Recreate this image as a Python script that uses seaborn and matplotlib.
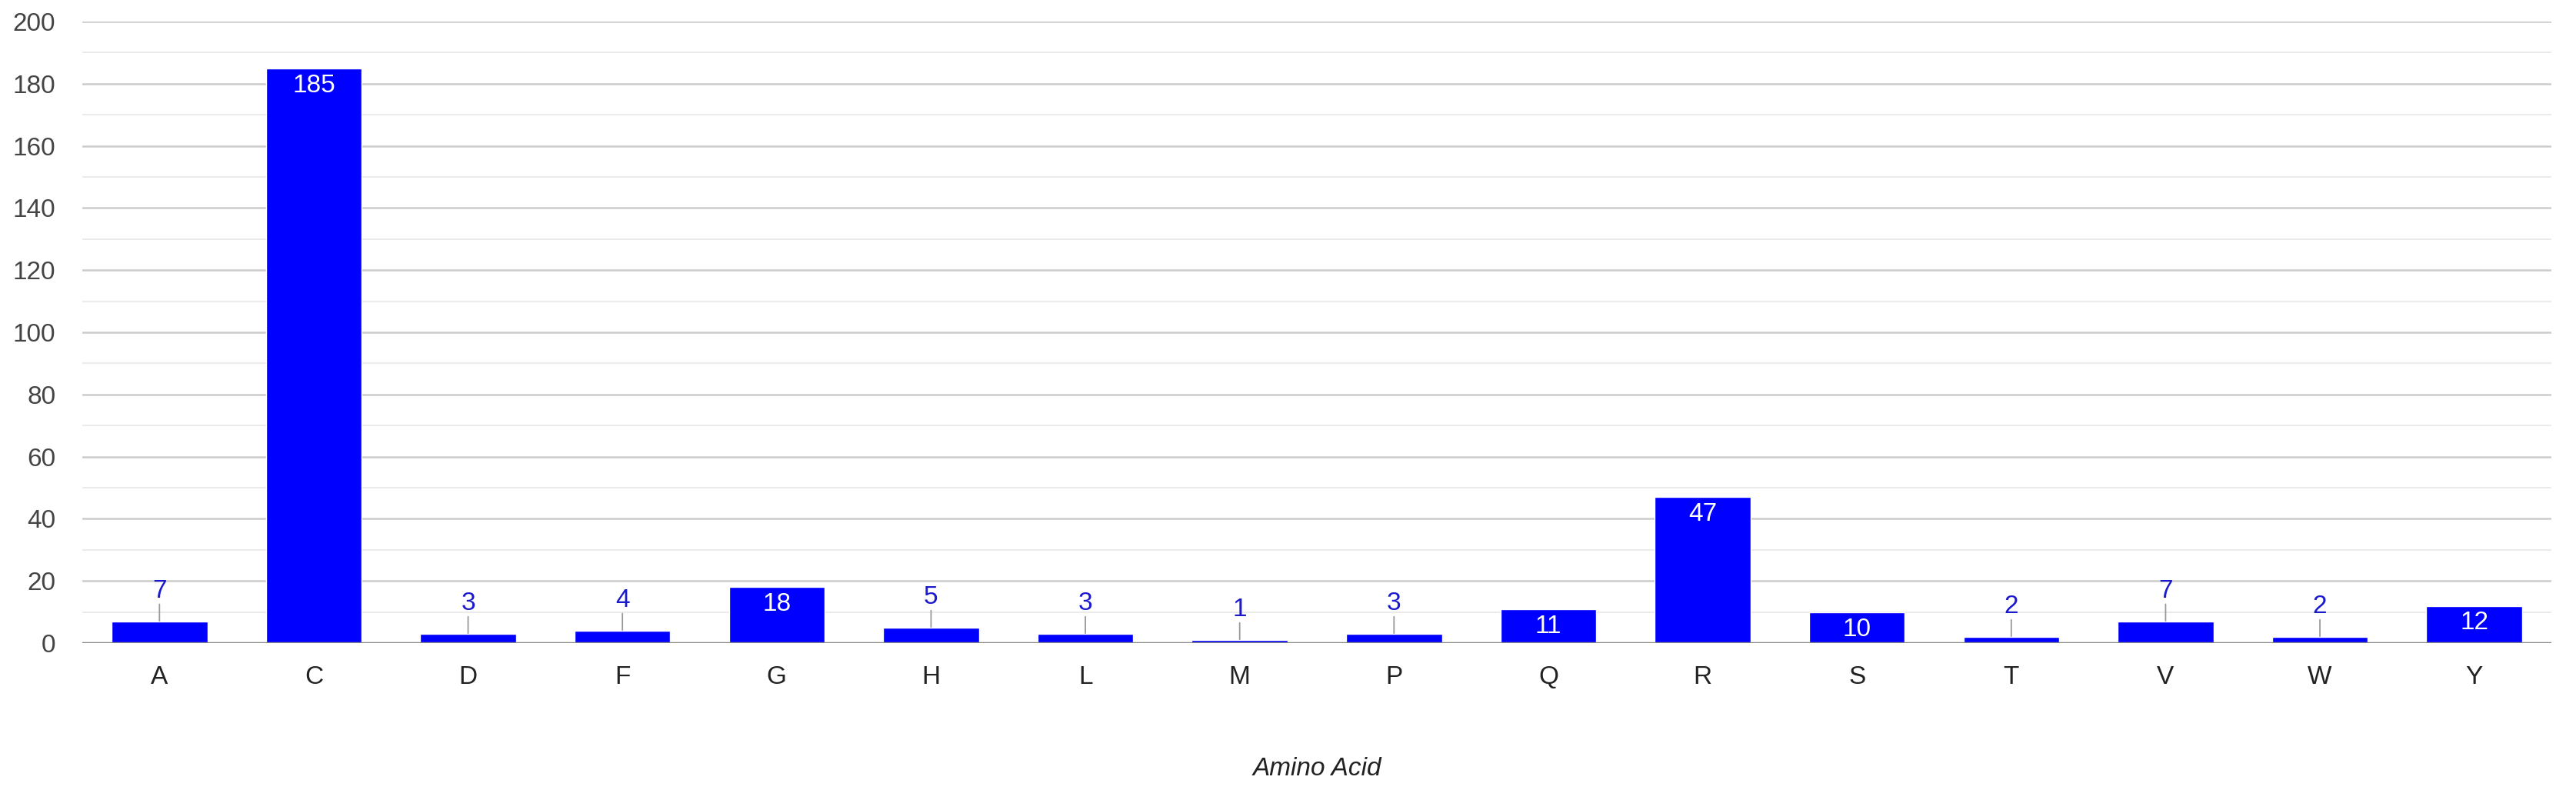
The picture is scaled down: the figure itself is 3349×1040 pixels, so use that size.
import pandas as pd
import numpy as np
import seaborn as sns
import matplotlib.pyplot as plt

# Amino acid counts
aminoacidos = ["A", "C", "D", "F", "G", "H", "L", "M", "P", "Q", "R", "S", "T", "V", "W", "Y"]
contagens = [7, 185, 3, 4, 18, 5, 3, 1, 3, 11, 47, 10, 2, 7, 2, 12]

dados = pd.DataFrame({"Amino Acid": aminoacidos, "Count": contagens})

sns.set_style("white")
plt.rcParams["font.family"] = ["Liberation Sans", "DejaVu Sans"]

fig = plt.figure(figsize=(33.49, 10.4), dpi=100)
ax = fig.add_axes([107 / 3349, 1 - 836 / 1040, (3317 - 107) / 3349, (836 - 28) / 1040])

sns.barplot(data=dados, x="Amino Acid", y="Count", color="#0000ff", saturation=1,
            width=0.62, ax=ax, zorder=3)

ax.set_xlim(-0.5, len(aminoacidos) - 0.5)
ax.set_ylim(0, 200)

# gridlines: major every 20, minor every 10
for y in range(10, 200, 20):
    ax.axhline(y, color="#ebebeb", lw=1.5, zorder=1)
for y in range(20, 201, 20):
    ax.axhline(y, color="#cccccc", lw=1.8, zorder=1)
ax.axhline(0, color="#888888", lw=2.5, zorder=4)

ax.set_yticks(range(0, 201, 20))
ax.tick_params(axis="y", length=0, pad=25, labelsize=24, labelcolor="#444444")
ax.tick_params(axis="x", length=0, pad=21, labelsize=24, labelcolor="#222222")
for s in ax.spines.values():
    s.set_visible(False)

ax.set_ylabel("")
ax.set_xlabel("Amino Acid", fontsize=24, style="italic", color="#222222", labelpad=63)

# value labels: inside for big bars, above with a stem for small ones
for i, v in enumerate(contagens):
    if v >= 10:
        ax.annotate(str(v), (i, v), xytext=(0, -5), textcoords="offset points",
                    ha="center", va="top", fontsize=24, color="white", zorder=5)
    else:
        ax.annotate("", xy=(i, v), xytext=(0, 16), textcoords="offset points",
                    arrowprops=dict(arrowstyle="-", color="#999999", lw=1.3,
                                    shrinkA=0, shrinkB=0), zorder=2)
        ax.annotate(str(v), (i, v), xytext=(0, 17), textcoords="offset points",
                    ha="center", va="bottom", fontsize=24, color="#1a1acc", zorder=5)

plt.savefig("out.png", dpi=100)
